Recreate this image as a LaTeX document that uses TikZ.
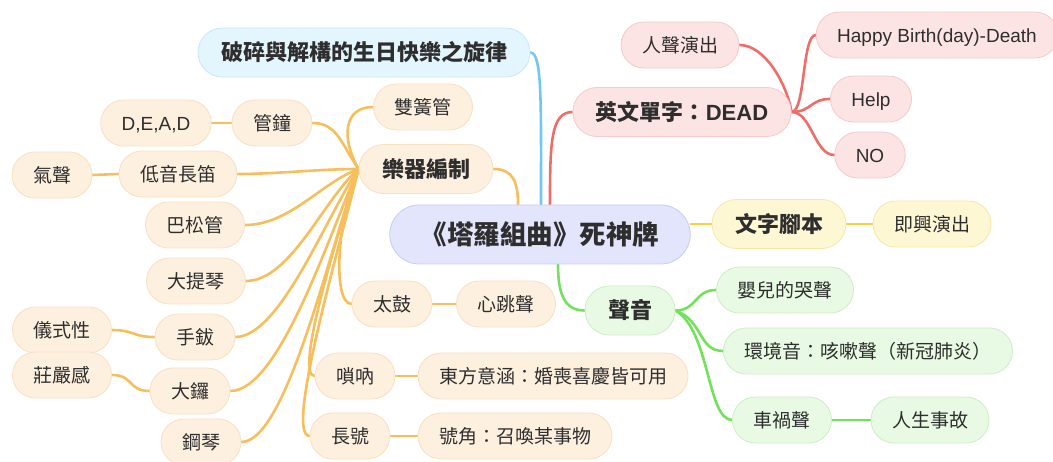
\documentclass[tikz,border=0pt]{standalone}
\usepackage{fontspec}
\setmainfont{Noto Sans CJK TC}
\newfontfamily\lat{Liberation Sans}
\usetikzlibrary{calc,backgrounds}
\definecolor{txt}{HTML}{2E2E2E}
\definecolor{ofill}{HTML}{FDF0DF}
\definecolor{obord}{HTML}{F8E0C2}
\definecolor{oline}{HTML}{F7BE5C}
\definecolor{rfill}{HTML}{FCE4E4}
\definecolor{rbord}{HTML}{F4CACA}
\definecolor{rline}{HTML}{EE6D69}
\definecolor{bfill}{HTML}{E3F5FD}
\definecolor{bbord}{HTML}{C8E8F6}
\definecolor{bline}{HTML}{72C7F0}
\definecolor{yfill}{HTML}{FEF7D4}
\definecolor{ybord}{HTML}{F4E8A8}
\definecolor{yline}{HTML}{F5D23A}
\definecolor{gfill}{HTML}{E8FAE3}
\definecolor{gbord}{HTML}{CCEEC4}
\definecolor{gline}{HTML}{72E25A}
\definecolor{cfill}{HTML}{E2E5FB}
\definecolor{cbord}{HTML}{C7CCF2}
\tikzset{
  nd/.style={rectangle, rounded corners=22.9pt, minimum height=46pt, inner xsep=21pt, inner ysep=0pt,
    text height=16.7pt, text depth=2.3pt, font=\fontsize{19}{23}\selectfont, text=txt, line width=0.8pt},
  lone/.style={nd, rounded corners=24.4pt, minimum height=49pt, inner xsep=23pt,
    text height=19.4pt, text depth=2.6pt, font=\fontsize{22}{26}\selectfont\bfseries},
  ctr/.style={nd, rounded corners=29.4pt, minimum height=59pt, inner xsep=31pt,
    text height=23.3pt, text depth=3.2pt, font=\fontsize{26.5}{30}\selectfont\bfseries, fill=cfill, draw=cbord},
  org/.style={fill=ofill, draw=obord},
  red/.style={fill=rfill, draw=rbord},
  blu/.style={fill=bfill, draw=bbord},
  yel/.style={fill=yfill, draw=ybord},
  grn/.style={fill=gfill, draw=gbord},
  con/.style={line width=2.6pt, line cap=round},
}
\begin{document}
\begin{tikzpicture}[x=1pt,y=-1pt]
\useasboundingbox (0,0) rectangle (1053,462);
% central
\node[ctr] (cen) at (540,234.5) {《塔羅組曲》死神牌};
% level one
\node[lone,blu] (bl) at (364,52.5) {破碎與解構的生日快樂之旋律};
\node[lone,org] (yq) at (426,169) {樂器編制};
\node[lone,red] (en) at (682,112) {英文單字：{\lat\bfseries DEAD}};
\node[lone,yel] (wz) at (779,224) {文字腳本};
\node[lone,grn] (sy) at (630,310.5) {聲音};
% orange leaves
\node[nd,org] (shg) at (423,107) {雙簧管};
\node[nd,org] (gz) at (272,123) {管鐘};
\node[nd,org] (dead) at (156,123) {\lat D,E,A,D};
\node[nd,org] (dyc) at (178,174) {低音長笛};
\node[nd,org] (qs) at (52,175) {氣聲};
\node[nd,org] (bsg) at (195,225) {巴松管};
\node[nd,org] (dtq) at (196,281) {大提琴};
\node[nd,org] (sb) at (195,337) {手鈸};
\node[nd,org] (ysx) at (62,330) {儀式性};
\node[nd,org] (zyg) at (62,375) {莊嚴感};
\node[nd,org] (dl) at (190,391) {大鑼};
\node[nd,org] (gq) at (201,442) {鋼琴};
\node[nd,org] (tg) at (392,304) {太鼓};
\node[nd,org] (xt) at (506,304) {心跳聲};
\node[nd,org] (sn) at (355,376) {嗩吶};
\node[nd,org] (df) at (553,376) {東方意涵：婚喪喜慶皆可用};
\node[nd,org] (ch) at (350,436) {長號};
\node[nd,org] (hj) at (515,436) {號角：召喚某事物};
% red leaves
\node[nd,red] (rs) at (680,45) {人聲演出};
\node[nd,red] (hbd) at (937,35) {\lat Happy Birth(day)-Death};
\node[nd,red] (help) at (871,99) {\lat Help};
\node[nd,red] (no) at (870,155) {\lat NO};
% yellow leaf
\node[nd,yel] (jx) at (932,224) {即興演出};
% green leaves
\node[nd,grn] (ye) at (785,290) {嬰兒的哭聲};
\node[nd,grn] (hjy) at (868,351) {環境音：咳嗽聲（新冠肺炎）};
\node[nd,grn] (chs) at (782,420) {車禍聲};
\node[nd,grn] (rssg) at (930,420) {人生事故};
\begin{pgfonlayer}{background}
% main branches
\draw[con,bline] (bl.east) .. controls +(0:12pt) and +(90:100pt) .. ($(cen.north)+(1,0)$);
\draw[con,rline] (en.west) .. controls +(180:22pt) and +(90:60pt) .. ($(cen.north)+(10,0)$);
\draw[con,oline] (yq.east) .. controls +(0:20pt) and +(90:22pt) .. ($(cen.north)+(-22,0)$);
\draw[con,yline] (wz.west) -- (wz.west -| cen.east);
\draw[con,yline] (wz.east) -- (jx.west);
\draw[con,gline] ($(cen.south)+(18,0)$) .. controls +(270:30pt) and +(180:20pt) .. (sy.west);
% orange fan
\begin{scope}[con,oline]
\draw (yq.west) .. controls +(120:35pt) and +(180:30pt) .. (shg.west);
\draw (yq.west) .. controls +(125:30pt) and +(0:25pt) .. (gz.east);
\draw (yq.west) .. controls +(180:40pt) and +(0:40pt) .. (dyc.east);
\draw (yq.west) .. controls +(200:40pt) and +(0:45pt) .. (bsg.east);
\draw (yq.west) .. controls +(220:45pt) and +(0:45pt) .. (dtq.east);
\draw (yq.west) .. controls +(235:55pt) and +(0:45pt) .. (sb.east);
\draw (yq.west) .. controls +(245:65pt) and +(0:50pt) .. (dl.east);
\draw (yq.west) .. controls +(250:85pt) and +(0:45pt) .. (gq.east);
\draw (yq.west) .. controls +(245:50pt) and +(180:20pt) .. (tg.west);
\draw (yq.west) .. controls +(252:75pt) and +(180:20pt) .. (sn.west);
\draw (yq.west) .. controls +(256:85pt) and +(180:25pt) .. (ch.west);
\draw (gz.west) -- (dead.east);
\draw (dyc.west) -- (qs.east);
\draw (ysx.east) .. controls +(0:22pt) and +(180:22pt) .. (sb.west);
\draw (zyg.east) .. controls +(0:22pt) and +(180:22pt) .. (dl.west);
\draw (tg.east) -- (xt.west);
\draw (sn.east) -- (df.west);
\draw (ch.east) -- (hj.west);
\end{scope}
% red fan
\begin{scope}[con,rline]
\draw (rs.east) .. controls +(0:25pt) and +(100:30pt) .. (en.east);
\draw (en.east) .. controls +(0:14pt) and +(180:14pt) .. (hbd.west);
\draw (en.east) .. controls +(0:20pt) and +(180:20pt) .. (help.west);
\draw (en.east) .. controls +(0:20pt) and +(180:20pt) .. (no.west);
\end{scope}
% green fan
\begin{scope}[con,gline]
\draw (sy.east) .. controls +(0:22pt) and +(180:22pt) .. (ye.west);
\draw (sy.east) .. controls +(-20:30pt) and +(180:25pt) .. (hjy.west);
\draw (sy.east) .. controls +(-30:40pt) and +(180:25pt) .. (chs.west);
\draw (chs.east) -- (rssg.west);
\end{scope}
\end{pgfonlayer}
\end{tikzpicture}
\end{document}
